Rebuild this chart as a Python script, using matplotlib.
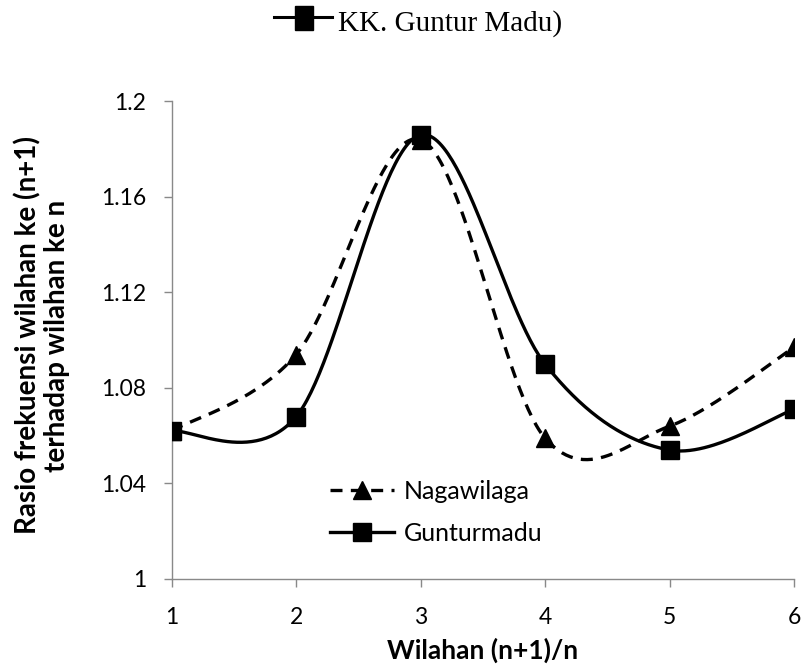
import numpy as np
import matplotlib
matplotlib.use("Agg")
import matplotlib.pyplot as plt
from matplotlib.lines import Line2D
from matplotlib.patches import Rectangle

# data
wilahan = [1, 2, 3, 4, 5, 6]
nagawilaga = [1.062, 1.094, 1.184, 1.059, 1.064, 1.097]
gunturmadu = [1.062, 1.068, 1.186, 1.090, 1.054, 1.071]
yticks = [1.0, 1.04, 1.08, 1.12, 1.16, 1.2]
ytick_labels = ["1", "1.04", "1.08", "1.12", "1.16", "1.2"]

FONT = "Lato"
GRAY = "#898989"
W, H = 802, 672


def smooth(xs, ys, n=60):
    # Excel-like smoothed line: parametric Catmull-Rom through the points
    pts = np.column_stack([xs, ys]).astype(float)
    ext = np.vstack([pts[0], pts, pts[-1]])
    out = []
    t = np.linspace(0, 1, n)
    for i in range(1, len(ext) - 2):
        p0, p1, p2, p3 = ext[i - 1], ext[i], ext[i + 1], ext[i + 2]
        m1 = (p2 - p0) / 2
        m2 = (p3 - p1) / 2
        h00 = 2 * t**3 - 3 * t**2 + 1
        h10 = t**3 - 2 * t**2 + t
        h01 = -2 * t**3 + 3 * t**2
        h11 = t**3 - t**2
        seg = (h00[:, None] * p1 + h10[:, None] * m1
               + h01[:, None] * p2 + h11[:, None] * m2)
        out.append(seg if i == 1 else seg[1:])
    seg = np.vstack(out)
    return seg[:, 0], seg[:, 1]


fig = plt.figure(figsize=(W / 100, H / 100), dpi=100)
ax = fig.add_axes([0.2141, 0.1384, 0.7759, 0.7106])

lw = 2.4
dash = (3.6, 2.5)
sx, sy = smooth(wilahan, nagawilaga)
ax.plot(sx, sy, color="black", lw=lw, dashes=dash, zorder=3)
ax.plot(wilahan, nagawilaga, ls="none", marker="^", ms=13, color="black", zorder=4)

sx, sy = smooth(wilahan, gunturmadu)
ax.plot(sx, sy, color="black", lw=lw, zorder=3)
ax.plot(wilahan, gunturmadu, ls="none", marker="s", ms=13.5, color="black", zorder=5)

ax.set_xlim(1, 6)
ax.set_ylim(1.0, 1.2)
ax.set_xticks(wilahan)
ax.set_yticks(yticks)
ax.set_yticklabels(ytick_labels)

for side in ["top", "right"]:
    ax.spines[side].set_visible(False)
for side in ["left", "bottom"]:
    ax.spines[side].set_color(GRAY)
    ax.spines[side].set_linewidth(1.0)
ax.tick_params(axis="both", color=GRAY, length=6, width=1.0, direction="out",
               labelsize=16.5)
ax.tick_params(axis="x", pad=14)
ax.tick_params(axis="y", pad=12.5)
for lab in ax.get_xticklabels() + ax.get_yticklabels():
    lab.set_fontfamily(FONT)

ax.set_xlabel("Wilahan (n+1)/n", fontsize=19, fontweight="bold", family=FONT,
              va="center")
ax.xaxis.set_label_coords(0.5, (579 - 650) / 477.5)
ax.set_ylabel("Rasio frekuensi wilahan ke (n+1)\nterhadap wilahan ke n",
              fontsize=20, fontweight="bold", family=FONT, linespacing=1.1,
              va="center")
ax.yaxis.set_label_coords((42 - 171.7) / 622.3, 0.51)

handles = [
    Line2D([], [], color="black", lw=lw, dashes=dash, marker="^", ms=13),
    Line2D([], [], color="black", lw=lw, marker="s", ms=13.5),
]
ax.legend(handles, ["Nagawilaga", "Gunturmadu"], loc="upper left",
          bbox_to_anchor=(0.218, 0.254), frameon=False, handlelength=2.56,
          handletextpad=0.4, labelspacing=0.76,
          prop={"family": FONT, "size": 18})

# caption fragment at the top
fig.add_artist(Line2D([274 / W, 332 / W], [1 - 17 / H, 1 - 17 / H],
                      color="black", lw=2.2))
fig.add_artist(Rectangle((295 / W, 1 - 30 / H), 18 / W, 24 / H,
                         transform=fig.transFigure, color="black"))
fig.text(338 / W, 1 - 31 / H, "KK. Guntur Madu)", family="Liberation Serif",
         fontsize=21, ha="left", va="baseline")

fig.savefig("out.png", dpi=100)
